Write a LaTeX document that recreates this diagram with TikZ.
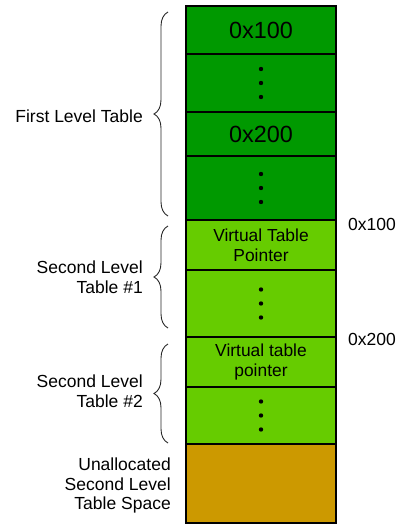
\documentclass[tikz,border=0pt]{standalone}
\usepackage{fontspec}
\setmainfont{Liberation Sans}
\usetikzlibrary{decorations.pathreplacing}
\definecolor{dg}{RGB}{0,153,0}
\definecolor{lg}{RGB}{102,204,0}
\definecolor{br}{RGB}{204,153,0}
\begin{document}
\begin{tikzpicture}[x=1pt,y=-1pt,
  row/.style={draw=black,line width=1.8pt,minimum width=150pt,inner sep=0pt,outer sep=0pt,
    font=\fontsize{17.4}{20}\selectfont,align=center},
  big/.style={font=\fontsize{23.4}{26}\selectfont},
  lbl/.style={inner sep=0pt,align=right,font=\fontsize{17.5}{19.5}\selectfont},
  brc/.style={decorate,decoration={brace,amplitude=14pt},line width=0.9pt,draw=black!85}]
\useasboundingbox (0,0) rectangle (400,525);
% rows
\node[row,fill=dg,minimum height=48pt,big] (r1) at (261,30) {0x100};
\node[row,fill=dg,minimum height=58pt] (r2) at (261,83) {};
\node[row,fill=dg,minimum height=44pt,big] (r3) at (261,134) {0x200};
\node[row,fill=dg,minimum height=64pt] (r4) at (261,188) {};
\node[row,fill=lg,minimum height=50pt] (r5) at (261,245) {Virtual Table\\Pointer};
\node[row,fill=lg,minimum height=67pt] (r6) at (261,303.5) {};
\node[row,fill=lg,minimum height=50pt] (r7) at (261,362) {Virtual table\\pointer};
\node[row,fill=lg,minimum height=57pt] (r8) at (261,415.5) {};
\node[row,fill=br,minimum height=79pt] (r9) at (261,483.5) {};
% dots
\foreach \n in {r2,r4,r6,r8}{
  \foreach \d in {-14,0,14}{
    \fill ([yshift=\d pt]\n.center) circle (2.2pt);
  }
}
% braces
\coordinate (b1t) at (168,12);
\coordinate (b1b) at (168,216);
\coordinate (b2t) at (168,226);
\coordinate (b2b) at (168,328);
\coordinate (b3t) at (168,344);
\coordinate (b3b) at (168,443);
\draw[brc] (b1b) -- (b1t);
\draw[brc] (b2b) -- (b2t);
\draw[brc] (b3b) -- (b3t);
% labels
\node[lbl,anchor=east] (l1) at (143,116) {First Level Table};
\node[lbl,anchor=east] (l2) at (143,277) {Second Level\\Table \#1};
\node[lbl,anchor=east] (l3) at (143,391) {Second Level\\Table \#2};
\node[lbl,anchor=east] (l4) at (171,485.5) {Unallocated\\Second Level\\Table Space};
\node[lbl,anchor=west] (a1) at (348,224) {0x100};
\node[lbl,anchor=west] (a2) at (348,339) {0x200};
\end{tikzpicture}
\end{document}
